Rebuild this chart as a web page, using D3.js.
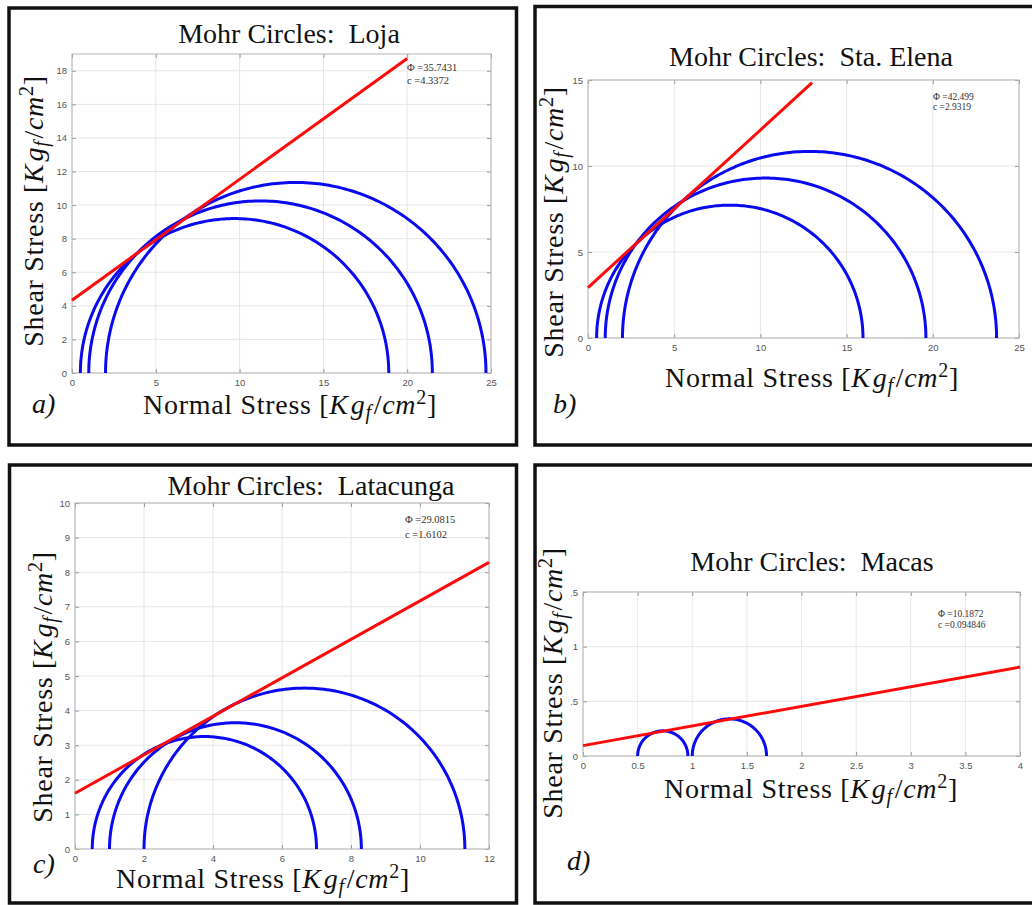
<!DOCTYPE html>
<html>
<head>
<meta charset="utf-8">
<script src="https://cdn.jsdelivr.net/npm/d3@7"></script>
<style>
  body { margin: 0; background: #fff; }
  svg { display: block; }
  .serif { font-family: "Liberation Serif", "Times New Roman", serif; fill: #111; }
  .tick text { font-family: "Liberation Sans", Arial, sans-serif; font-size: 9.5px; fill: #555; }
  .tick line { stroke: #9a9a9a; }
</style>
</head>
<body>
<svg id="chart" width="1032" height="905"></svg>
<script>
const stations = ["Loja", "Sta. Elena", "Latacunga", "Macas"];
const tags = ["a)", "b)", "c)", "d)"];

const lojaSigma3 = [0.5, 1, 2];
const lojaSigma1 = [18.9, 21.5, 24.7];
const elenaSigma3 = [0.5, 1, 2];
const elenaSigma1 = [15.95, 19.6, 23.7];
const latacungaSigma3 = [0.5, 1, 2];
const latacungaSigma1 = [7.0, 8.3, 11.3];
const macasSigma3 = [0.5, 1.0];
const macasSigma1 = [0.96, 1.68];

// Mohr-Coulomb fit: friction angle (deg) and cohesion
const phiValues = [35.7431, 42.499, 29.0815, 10.1872];
const cohesionValues = [4.3372, 2.9319, 1.6102, 0.094846];
const phiLabels = ["35.7431", "42.499", "29.0815", "10.1872"];
const cohesionLabels = ["4.3372", "2.9319", "1.6102", "0.094846"];
const envelopeEnd = [20, 13, 12, 4];

// axes
const xDomains = [[0, 25], [0, 25], [0, 12], [0, 4]];
const yDomains = [[0, 19], [0, 15], [0, 10], [0, 1.5]];
const xTickValues = [
  [0, 5, 10, 15, 20, 25],
  [0, 5, 10, 15, 20, 25],
  [0, 2, 4, 6, 8, 10, 12],
  [0, 0.5, 1, 1.5, 2, 2.5, 3, 3.5, 4],
];
const yTickValues = [
  [0, 2, 4, 6, 8, 10, 12, 14, 16, 18],
  [0, 5, 10, 15],
  [0, 1, 2, 3, 4, 5, 6, 7, 8, 9, 10],
  [0, 0.5, 1, 1.5],
];

const sigma3Sets = [lojaSigma3, elenaSigma3, latacungaSigma3, macasSigma3];
const sigma1Sets = [lojaSigma1, elenaSigma1, latacungaSigma1, macasSigma1];

// where each panel sits on the page
const layout = [
  { frame: [9, 8, 516.5, 445], plot: [72, 54, 491, 373], title: [289, 43], xLabel: [290, 414], yLabel: [43, 211], tag: [32, 413], legend: [407, 71, 13, 10.5] },
  { frame: [535, 6.5, 1045, 445], plot: [588, 80, 1019, 338], title: [811, 66], xLabel: [812, 387], yLabel: [563, 222], tag: [553, 413], legend: [933, 100, 10, 9.5] },
  { frame: [9.5, 465, 516.5, 903], plot: [75, 503, 489, 849], title: [311, 495], xLabel: [263, 888], yLabel: [52, 687], tag: [33, 873], legend: [405, 523, 15, 10.5] },
  { frame: [535, 465, 1045, 903], plot: [583, 592, 1020, 756], title: [812, 571], xLabel: [811, 798], yLabel: [562, 683], tag: [567, 870], legend: [938, 617, 11, 9.5] },
];

const svg = d3.select("#chart");
svg.append("rect").attr("width", 1032).attr("height", 905).attr("fill", "#fff");

const defs = svg.append("defs");
// the source image crops the leading "0"/"1" of the Macas y tick labels
defs.append("clipPath").attr("id", "macas-ytick-clip")
  .append("rect").attr("x", 571).attr("y", 560).attr("width", 60).attr("height", 220);

stations.forEach((name, i) => drawPanel(i));

function drawPanel(i) {
  const L = layout[i];
  const [x0, y0, x1, y1] = L.plot;
  const g = svg.append("g");

  const x = d3.scaleLinear().domain(xDomains[i]).range([x0, x1]);
  const y = d3.scaleLinear().domain(yDomains[i]).range([y1, y0]);

  // grid
  g.append("g").selectAll("line").data(xTickValues[i]).join("line")
    .attr("x1", d => x(d)).attr("x2", d => x(d))
    .attr("y1", y0).attr("y2", y1)
    .attr("stroke", "#e6e6e6").attr("stroke-width", 1);
  g.append("g").selectAll("line").data(yTickValues[i]).join("line")
    .attr("x1", x0).attr("x2", x1)
    .attr("y1", d => y(d)).attr("y2", d => y(d))
    .attr("stroke", "#e6e6e6").attr("stroke-width", 1);

  // axes, MATLAB style: inward ticks on all sides
  const fmt = d3.format("~g");
  g.append("g").attr("transform", `translate(0,${y1})`)
    .call(d3.axisBottom(x).tickValues(xTickValues[i]).tickFormat(fmt).tickSizeInner(-4).tickSizeOuter(0).tickPadding(6))
    .call(a => a.select(".domain").remove());
  g.append("g").attr("transform", `translate(0,${y0})`)
    .call(d3.axisTop(x).tickValues(xTickValues[i]).tickFormat("").tickSizeInner(-4).tickSizeOuter(0))
    .call(a => a.select(".domain").remove());
  const leftWrap = g.append("g");
  if (i === 3) leftWrap.attr("clip-path", "url(#macas-ytick-clip)");
  leftWrap.append("g").attr("transform", `translate(${x0},0)`)
    .call(d3.axisLeft(y).tickValues(yTickValues[i]).tickFormat(fmt).tickSizeInner(-4).tickSizeOuter(0).tickPadding(5))
    .call(a => a.select(".domain").remove());
  g.append("g").attr("transform", `translate(${x1},0)`)
    .call(d3.axisRight(y).tickValues(yTickValues[i]).tickFormat("").tickSizeInner(-4).tickSizeOuter(0))
    .call(a => a.select(".domain").remove());

  g.append("rect")
    .attr("x", x0).attr("y", y0)
    .attr("width", x1 - x0).attr("height", y1 - y0)
    .attr("fill", "none").attr("stroke", "#b5b5b5").attr("stroke-width", 1);

  // Mohr circles (upper halves)
  const circles = sigma3Sets[i].map((s3, k) => ({ s3: s3, s1: sigma1Sets[i][k] }));
  const arc = d3.line().x(p => x(p[0])).y(p => y(p[1]));
  g.append("g").selectAll("path").data(circles).join("path")
    .attr("d", c => {
      const centre = (c.s1 + c.s3) / 2;
      const r = (c.s1 - c.s3) / 2;
      return arc(d3.range(0, 181).map(a => {
        const t = a * Math.PI / 180;
        return [centre + r * Math.cos(t), r * Math.sin(t)];
      }));
    })
    .attr("fill", "none")
    .attr("stroke", "#0a0af0")
    .attr("stroke-width", 3);

  // failure envelope
  const slope = Math.tan(phiValues[i] * Math.PI / 180);
  const env = [0, envelopeEnd[i]].map(s => [s, cohesionValues[i] + slope * s]);
  g.append("path")
    .attr("d", arc(env))
    .attr("fill", "none")
    .attr("stroke", "#ff0a0a")
    .attr("stroke-width", 3);

  // fit annotation
  const [lx, ly, lgap, lsize] = L.legend;
  const note = g.append("g").attr("class", "serif").style("font-size", lsize + "px");
  note.append("text").attr("x", lx).attr("y", ly).style("fill", "#333").text("\u03A6 =" + phiLabels[i]);
  note.append("text").attr("x", lx).attr("y", ly + lgap).style("fill", "#333").text("c =" + cohesionLabels[i]);

  // titles and labels
  g.append("text").attr("class", "serif")
    .attr("x", L.title[0]).attr("y", L.title[1])
    .attr("text-anchor", "middle")
    .style("font-size", "28px")
    .style("white-space", "pre")
    .text("Mohr Circles:  " + stations[i]);

  const xl = g.append("text").attr("class", "serif")
    .attr("x", L.xLabel[0]).attr("y", L.xLabel[1])
    .attr("text-anchor", "middle")
    .style("font-size", "28px")
    .style("letter-spacing", "0.7px");
  unitLabel(xl, "Normal Stress ");

  const yl = g.append("text").attr("class", "serif")
    .attr("transform", `translate(${L.yLabel[0]},${L.yLabel[1]}) rotate(-90)`)
    .attr("text-anchor", "middle")
    .style("font-size", "28px")
    .style("letter-spacing", "0.7px");
  unitLabel(yl, "Shear Stress ");

  g.append("text").attr("class", "serif")
    .attr("x", L.tag[0]).attr("y", L.tag[1])
    .style("font-size", "28px")
    .style("font-style", "italic")
    .text(tags[i]);

  g.append("rect")
    .attr("x", L.frame[0]).attr("y", L.frame[1])
    .attr("width", L.frame[2] - L.frame[0]).attr("height", L.frame[3] - L.frame[1])
    .attr("fill", "none").attr("stroke", "#111").attr("stroke-width", 3.5);
}

function unitLabel(text, prefix) {
  text.append("tspan").text(prefix + "[");
  text.append("tspan").style("font-style", "italic").text("K");
  text.append("tspan").attr("dx", 2).style("font-style", "italic").text("g");
  text.append("tspan").attr("dy", 5).style("font-style", "italic").style("font-size", "20px").text("f");
  text.append("tspan").attr("dy", -5).attr("dx", 2).text("/");
  text.append("tspan").style("font-style", "italic").text("cm");
  text.append("tspan").attr("dy", -10).style("font-size", "20px").text("2");
  text.append("tspan").attr("dy", 10).text("]");
}
</script>
</body>
</html>
